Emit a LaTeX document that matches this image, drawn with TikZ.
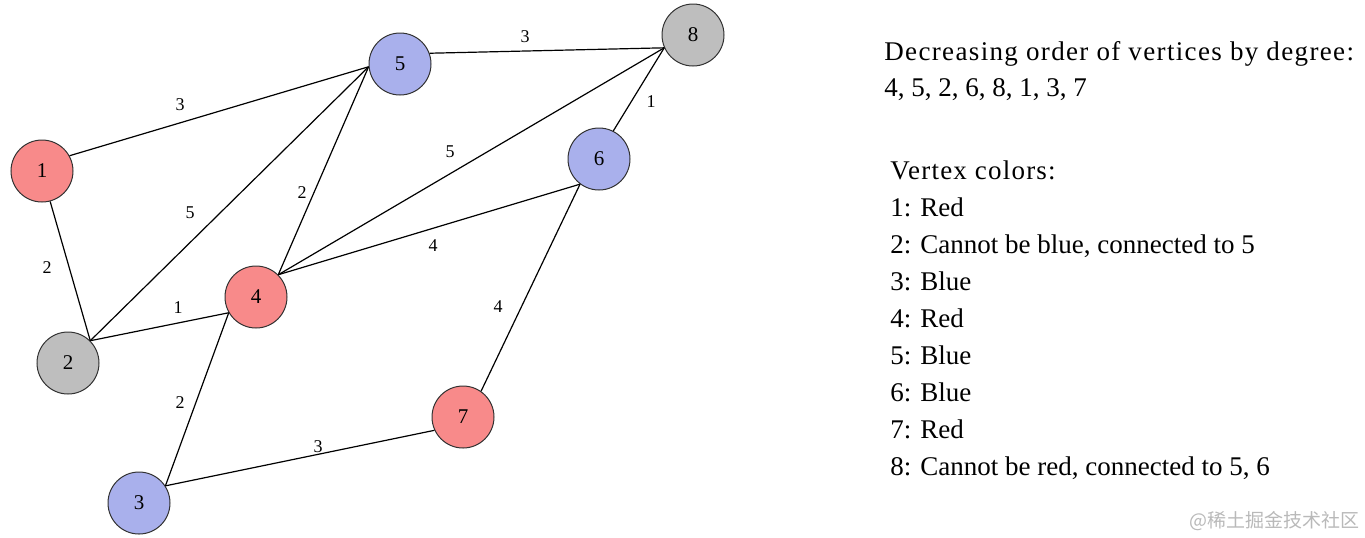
\documentclass[tikz,border=0pt]{standalone}
\usepackage{fontspec}
\setmainfont{Liberation Serif}
\newfontfamily\cjkfont{Noto Sans CJK SC}
\newfontfamily\spacedfont[LetterSpace=5]{Liberation Serif}
\newfontfamily\midspacedfont[LetterSpace=4.5]{Liberation Serif}
\definecolor{vred}{RGB}{248,138,138}
\definecolor{vblue}{RGB}{169,176,236}
\definecolor{vgray}{RGB}{190,190,190}
\definecolor{vborder}{RGB}{50,50,50}
\definecolor{wmark}{RGB}{185,185,185}
\begin{document}
\begin{tikzpicture}[x=0.5pt,y=-0.5pt,
  vertex/.style={circle,draw=vborder,line width=0.5pt,minimum size=31pt,inner sep=0pt,font=\fontsize{10.5}{12}\selectfont},
  redv/.style={vertex,fill=vred},
  bluev/.style={vertex,fill=vblue},
  grayv/.style={vertex,fill=vgray},
  edge/.style={draw=black,line width=0.6pt},
  wlabel/.style={font=\fontsize{9}{10}\selectfont,inner sep=0pt},
  info/.style={anchor=base west,inner sep=0pt,font=\fontsize{13.5}{15}\selectfont}]
\useasboundingbox (0,0) rectangle (1365,537);
% vertices
\node[redv]  (n1) at (42,171) {1};
\node[grayv] (n2) at (68,363) {2};
\node[bluev] (n3) at (139,503) {3};
\node[redv]  (n4) at (256,297) {4};
\node[bluev] (n5) at (400,64) {5};
\node[bluev] (n6) at (599,159) {6};
\node[redv]  (n7) at (463,417) {7};
\node[grayv] (n8) at (693,35) {8};
% edges
\draw[edge] (n1.29) -- (n5.185);
\draw[edge] (n1.285) -- (n2.45);
\draw[edge] (n2.45) -- (n5.185);
\draw[edge] (n2.45) -- (n4.210);
\draw[edge] (n4.45) -- (n5.185);
\draw[edge] (n4.45) -- (n8.204);
\draw[edge] (n4.45) -- (n6.233);
\draw[edge] (n4.210) -- (n3.33);
\draw[edge] (n5.20) -- (n8.204);
\draw[edge] (n6.63) -- (n8.204);
\draw[edge] (n6.233) -- (n7.55);
\draw[edge] (n3.33) -- (n7.205);
% edge labels
\node[wlabel] (l58) at (525,37) {3};
\node[wlabel] (l15) at (180,105) {3};
\node[wlabel] (l68) at (651,102) {1};
\node[wlabel] (l48) at (450,152) {5};
\node[wlabel] (l45) at (302,193) {2};
\node[wlabel] (l25) at (190,213) {5};
\node[wlabel] (l12) at (47,268) {2};
\node[wlabel] (l46) at (433,246) {4};
\node[wlabel] (l24) at (178,308) {1};
\node[wlabel] (l67) at (498,307) {4};
\node[wlabel] (l34) at (180,403) {2};
\node[wlabel] (l37) at (318,447) {3};
% info text
\node[info,font=\spacedfont\fontsize{13.5}{15}\selectfont] (t1) at (884,60) {Decreasing order of vertices by degree:};
\node[info] (t2) at (884,96) {4, 5, 2, 6, 8, 1, 3, 7};
\node[info,font=\midspacedfont\fontsize{13.5}{15}\selectfont] (c0) at (890,179) {Vertex colors:};
\node[info] (c1) at (890,216) {1: Red};
\node[info] (c2) at (890,253) {2: Cannot be blue, connected to 5};
\node[info] (c3) at (890,290) {3: Blue};
\node[info] (c4) at (890,327) {4: Red};
\node[info] (c5) at (890,364) {5: Blue};
\node[info] (c6) at (890,401) {6: Blue};
\node[info] (c7) at (890,438) {7: Red};
\node[info] (c8) at (890,475) {8: Cannot be red, connected to 5, 6};
% watermark
\node[anchor=east,inner sep=0pt,text=wmark,font=\cjkfont\fontsize{9.5}{11}\selectfont] (wm) at (1360,521) {@稀土掘金技术社区};
\end{tikzpicture}
\end{document}
